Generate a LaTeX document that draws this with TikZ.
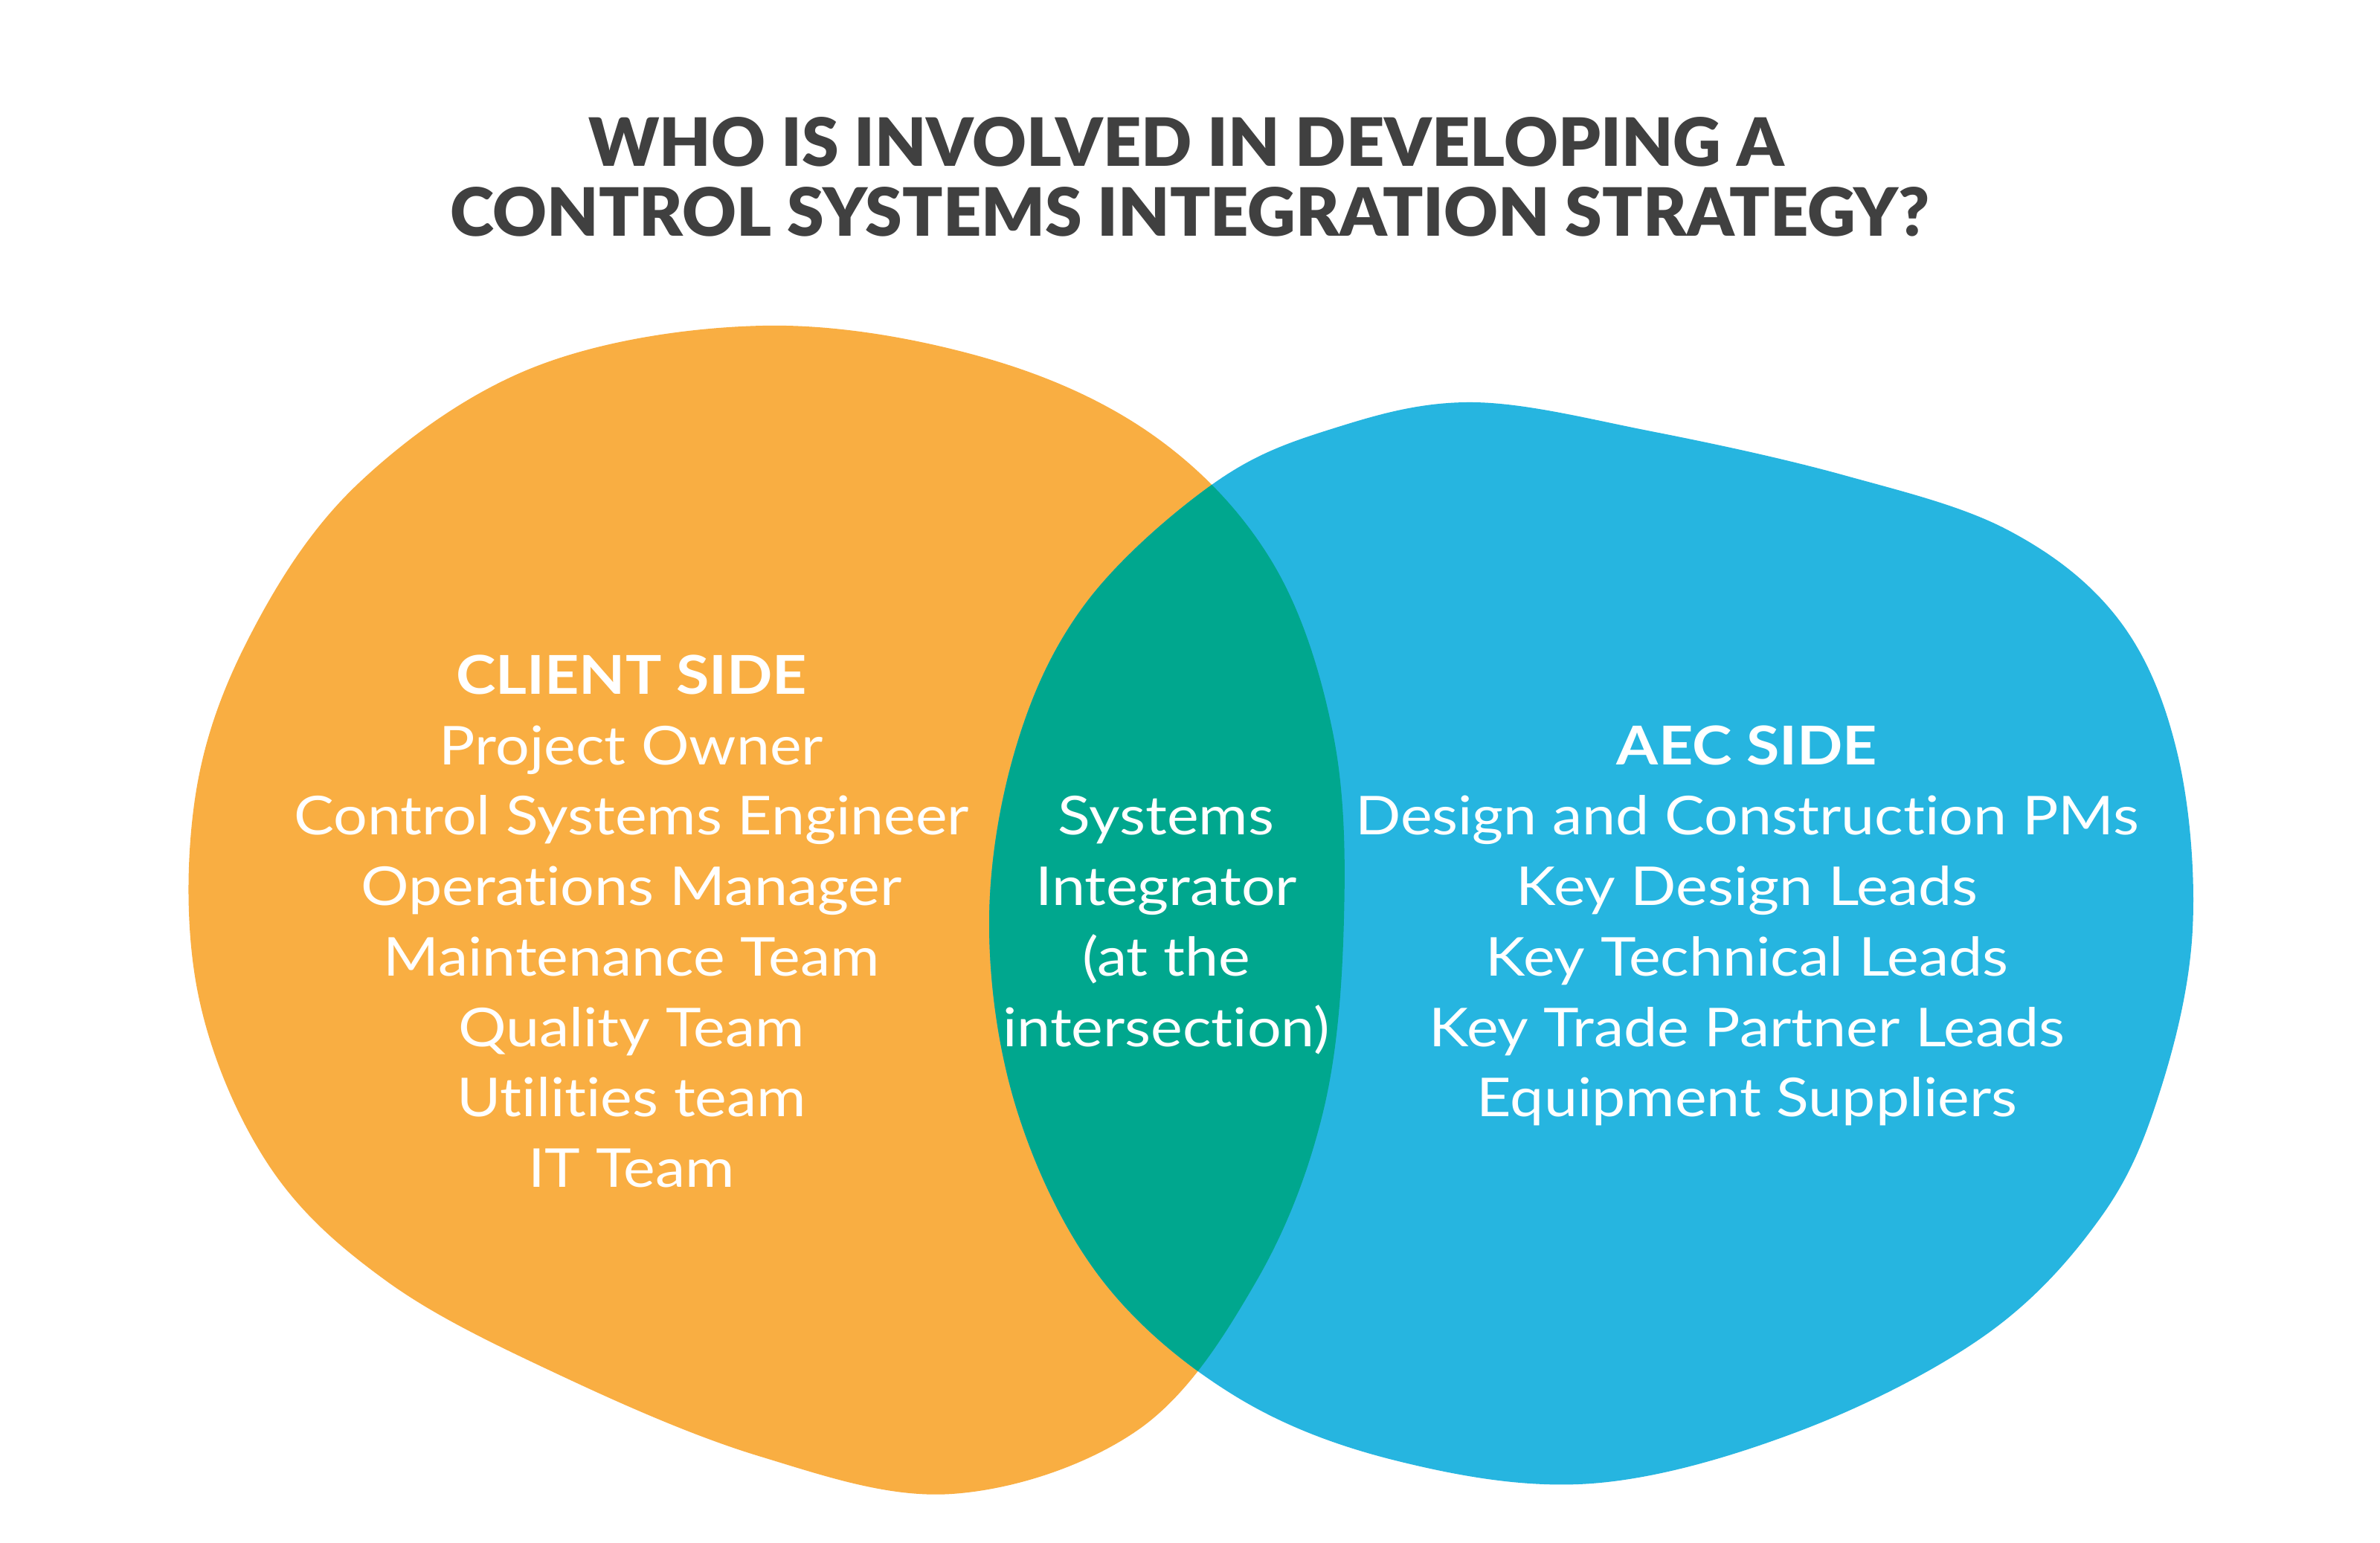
\documentclass[tikz,border=0pt]{standalone}
\usepackage{fontspec}
\setmainfont{Lato}[FakeStretch=1.12, Ligatures=NoCommon]
\newfontfamily\titlefont{Lato Black}[Ligatures=NoCommon]
\usepackage{tikz}
\usetikzlibrary{positioning}

\definecolor{clientorange}{HTML}{F9AE42}
\definecolor{aecblue}{HTML}{26B5E0}
\definecolor{overlapgreen}{HTML}{00A78E}
\definecolor{titlegrey}{HTML}{404040}

% outlines of the two blobs
\newcommand{\clientshape}{plot[smooth cycle, tension=0.6] coordinates {
  (10.26,16.37) (13.20,15.95) (15.50,14.90) (17.10,13.20) (17.92,10.90)
  (18.07,8.40) (17.79,5.80) (16.88,3.50) (15.30,1.52) (12.80,0.66)
  (10.20,1.17) (7.50,2.27) (5.20,3.52) (3.60,5.10) (2.66,7.40)
  (2.62,10.00) (3.36,12.20) (4.82,14.25) (7.20,15.82)}}
\newcommand{\aecshape}{plot[smooth cycle, tension=0.6] coordinates {
  (19.79,15.34) (22.20,14.95) (24.79,14.36) (27.00,13.62) (28.50,12.40)
  (29.28,10.60) (29.48,8.25) (29.05,6.10) (28.26,4.40) (26.70,2.80)
  (24.18,1.50) (21.40,0.80) (18.80,1.10) (16.60,1.98) (14.80,3.56)
  (13.68,5.80) (13.30,8.30) (13.66,10.70) (14.60,12.64) (16.32,14.25)
  (17.90,14.98)}}

\begin{document}
\begin{tikzpicture}[
  heading/.style={font=\fontsize{20.5}{24}\selectfont\bfseries, text=white, anchor=base, inner sep=0pt},
  member/.style={font=\fontsize{20.5}{24}\selectfont, text=white, anchor=base, inner sep=0pt},
  titleline/.style={font=\titlefont\fontsize{25.5}{30}\selectfont, text=titlegrey, anchor=base, inner sep=0pt}
]
\useasboundingbox (0,0) rectangle (32,20.75);
\fill[white] (0,0) rectangle (32,20.75);

% Blobs and their overlap
\fill[clientorange] \clientshape;
\fill[aecblue] \aecshape;
\begin{scope}
  \clip \clientshape;
  \fill[overlapgreen] \aecshape;
\end{scope}

% Title
\node[titleline] (title1) at (15.95,18.51) {WHO IS INVOLVED IN DEVELOPING A};
\node[titleline] (title2) at (16.00,17.57) {CONTROL SYSTEMS INTEGRATION STRATEGY?};

% Client side
\node[heading] (client0) at (8.49,11.41) {CLIENT SIDE};
\node[member] (client1) at (8.49,10.46) {Project Owner};
\node[member] (client2) at (8.49,9.52) {Control Systems Engineer};
\node[member] (client3) at (8.49,8.57) {Operations Manager};
\node[member] (client4) at (8.49,7.62) {Maintenance Team};
\node[member] (client5) at (8.49,6.67) {Quality Team};
\node[member] (client6) at (8.49,5.73) {Utilities team};
\node[member] (client7) at (8.49,4.78) {IT Team};

% Intersection
\node[member] (si1) at (15.68,9.52) {Systems};
\node[member] (si2) at (15.68,8.57) {Integrator};
\node[member] (si3) at (15.68,7.62) {(at the};
\node[member] (si4) at (15.68,6.67) {intersection)};

% AEC side
\node[heading] (aec0) at (23.49,10.46) {AEC SIDE};
\node[member] (aec1) at (23.49,9.52) {Design and Construction PMs};
\node[member] (aec2) at (23.49,8.57) {Key Design Leads};
\node[member] (aec3) at (23.49,7.62) {Key Technical Leads};
\node[member] (aec4) at (23.49,6.67) {Key Trade Partner Leads};
\node[member] (aec5) at (23.49,5.73) {Equipment Suppliers};

\end{tikzpicture}
\end{document}
